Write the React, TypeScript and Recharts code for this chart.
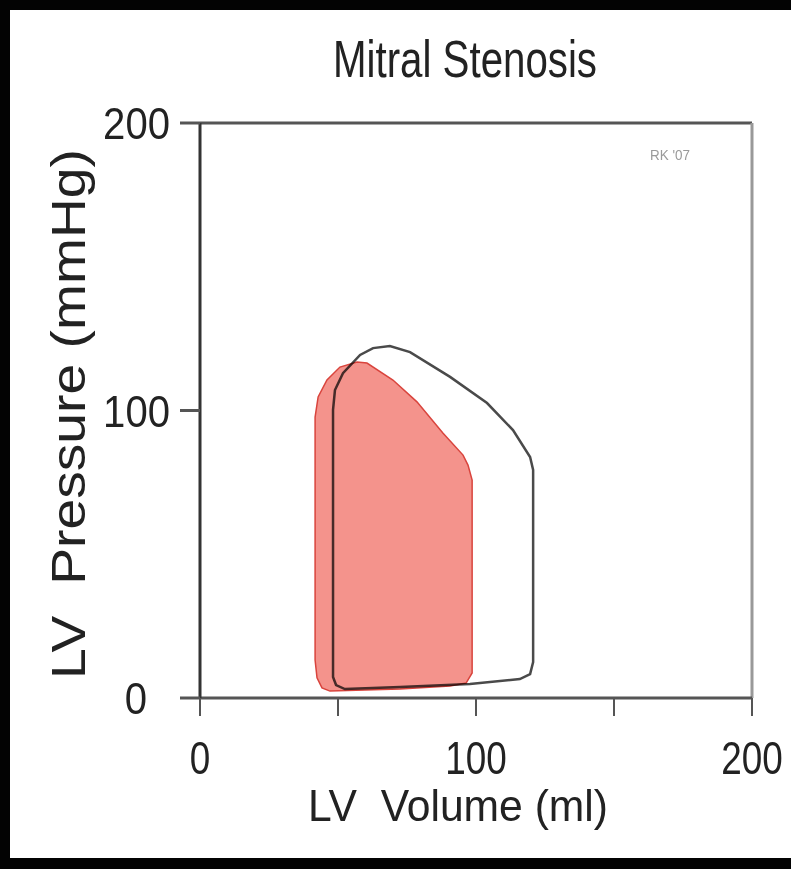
import React from 'react';
import { ScatterChart, Scatter, XAxis, YAxis, ReferenceLine, Curve } from 'recharts';

// Normal pressure-volume loop (gray outline)
const normalVolume = [48.2, 49.3, 52.5, 72.5, 97.8, 115.9, 119.6, 120.7, 120.7, 119.6, 113.4, 104.0, 90.6, 76.1, 68.8, 62.7, 58.0, 51.8, 48.9, 48.2];
const normalPressure = [7.3, 4.5, 3.1, 3.8, 4.9, 6.6, 8.3, 12.5, 79.3, 83.8, 93.2, 102.6, 111.7, 120.3, 122.4, 121.7, 119.3, 113.0, 107.1, 100.2];

// Mitral stenosis loop (red filled)
const stenosisVolume = [41.7, 41.7, 42.4, 44.2, 47.1, 72.5, 90.6, 96.4, 98.6, 98.6, 97.1, 95.3, 88.0, 78.6, 69.9, 60.5, 56.9, 50.7, 46.0, 42.8];
const stenosisPressure = [97.7, 13.2, 7.0, 3.5, 2.4, 3.1, 4.2, 5.2, 8.7, 75.8, 81.0, 84.5, 92.2, 103.0, 110.6, 116.5, 116.9, 115.1, 110.6, 104.7];

const volumeTicks = [0, 50, 100, 150, 200];
const volumeTickLabels = ['0', '', '100', '', '200'];
const pressureTicks = [0, 100, 200];
const pressureTickLabels = ['0', '100', '200'];

const title = 'Mitral Stenosis';
const xLabel = 'LV  Volume (ml)';
const yLabel = 'LV  Pressure (mmHg)';
const credit = "RK '07";

const normalLoop = normalVolume.map((v, i) => ({ volume: v, pressure: normalPressure[i] }));
const stenosisLoop = stenosisVolume.map((v, i) => ({ volume: v, pressure: stenosisPressure[i] }));

const FONT = "'Liberation Sans', Arial, Helvetica, sans-serif";

const Hidden = () => <g />;

const XTick = (props: any) => {
  const { x, y, payload } = props;
  const label = volumeTickLabels[volumeTicks.indexOf(payload.value)];
  if (!label) return <g />;
  return (
    <text x={x} y={y + 56} textAnchor="middle" fontSize={46} fontFamily={FONT} fill="#222"
      textLength={label.length * 20.5} lengthAdjust="spacingAndGlyphs">{label}</text>
  );
};

const YTick = (props: any) => {
  const { x, y, payload } = props;
  const label = pressureTickLabels[pressureTicks.indexOf(payload.value)];
  if (!label) return <g />;
  const shift = payload.value === 0 ? -23 : 0;
  return (
    <text x={x + shift} y={y + 16} textAnchor="end" fontSize={45} fontFamily={FONT} fill="#222"
      textLength={label.length * 22.3} lengthAdjust="spacingAndGlyphs">{label}</text>
  );
};

const NormalLine = (p: any) => (
  <Curve points={p.points} type="linearClosed" fill="none" stroke="#4a4a4a" strokeWidth={2.5} />
);

const StenosisLine = (p: any) => (
  <g style={{ mixBlendMode: 'multiply' }}>
    <Curve points={p.points} type="linearClosed" fill="#f4938c" stroke="#d9443d" strokeWidth={1.5} />
  </g>
);

export default function App() {
  return (
    <div style={{ position: 'absolute', left: 0, top: 0, width: 791, height: 869, background: '#030303', overflow: 'hidden' }}>
      <div style={{ position: 'absolute', left: 10, top: 10, width: 781, height: 848, background: '#fff' }} />
      <div style={{ position: 'absolute', left: 0, top: 0 }}>
        <ScatterChart width={791} height={869} margin={{ top: 123, right: 39, bottom: 0, left: 0 }}>
          <XAxis type="number" dataKey="volume" domain={[0, 200]} ticks={volumeTicks} interval={0}
            height={171} tickSize={18} tickMargin={2}
            axisLine={{ stroke: '#555', strokeWidth: 3 }} tickLine={{ stroke: '#555', strokeWidth: 2 }}
            tick={<XTick />} />
          <YAxis type="number" dataKey="pressure" domain={[0, 200]} ticks={pressureTicks} interval={0}
            width={200} tickSize={20} tickMargin={10}
            axisLine={{ stroke: '#333', strokeWidth: 3 }} tickLine={{ stroke: '#555', strokeWidth: 3 }}
            tick={<YTick />} />
          <ReferenceLine y={200} stroke="#555" strokeWidth={3} />
          <ReferenceLine x={200} stroke="#999" strokeWidth={3} />
          <Scatter data={normalLoop} isAnimationActive={false} shape={Hidden} lineType="joint" line={NormalLine} />
          <Scatter data={stenosisLoop} isAnimationActive={false} shape={Hidden} lineType="joint" line={StenosisLine} />
        </ScatterChart>
      </div>
      <svg width={791} height={869} style={{ position: 'absolute', left: 0, top: 0, pointerEvents: 'none' }}>
        <text x={465} y={77} textAnchor="middle" fontSize={52} fontFamily={FONT} fill="#222"
          textLength={264} lengthAdjust="spacingAndGlyphs">{title}</text>
        <text x={458} y={821} textAnchor="middle" fontSize={45} fontFamily={FONT} fill="#222"
          textLength={300} lengthAdjust="spacingAndGlyphs" style={{ whiteSpace: 'pre' }}>{xLabel}</text>
        <text transform="translate(85,414) rotate(-90)" x={0} y={0} textAnchor="middle" fontSize={48} fontFamily={FONT} fill="#222"
          textLength={530} lengthAdjust="spacingAndGlyphs" style={{ whiteSpace: 'pre' }}>{yLabel}</text>
        <text x={650} y={160} fontSize={14} fontFamily={FONT} fill="#9a9a9a"
          textLength={40} lengthAdjust="spacingAndGlyphs">{credit}</text>
      </svg>
    </div>
  );
}
